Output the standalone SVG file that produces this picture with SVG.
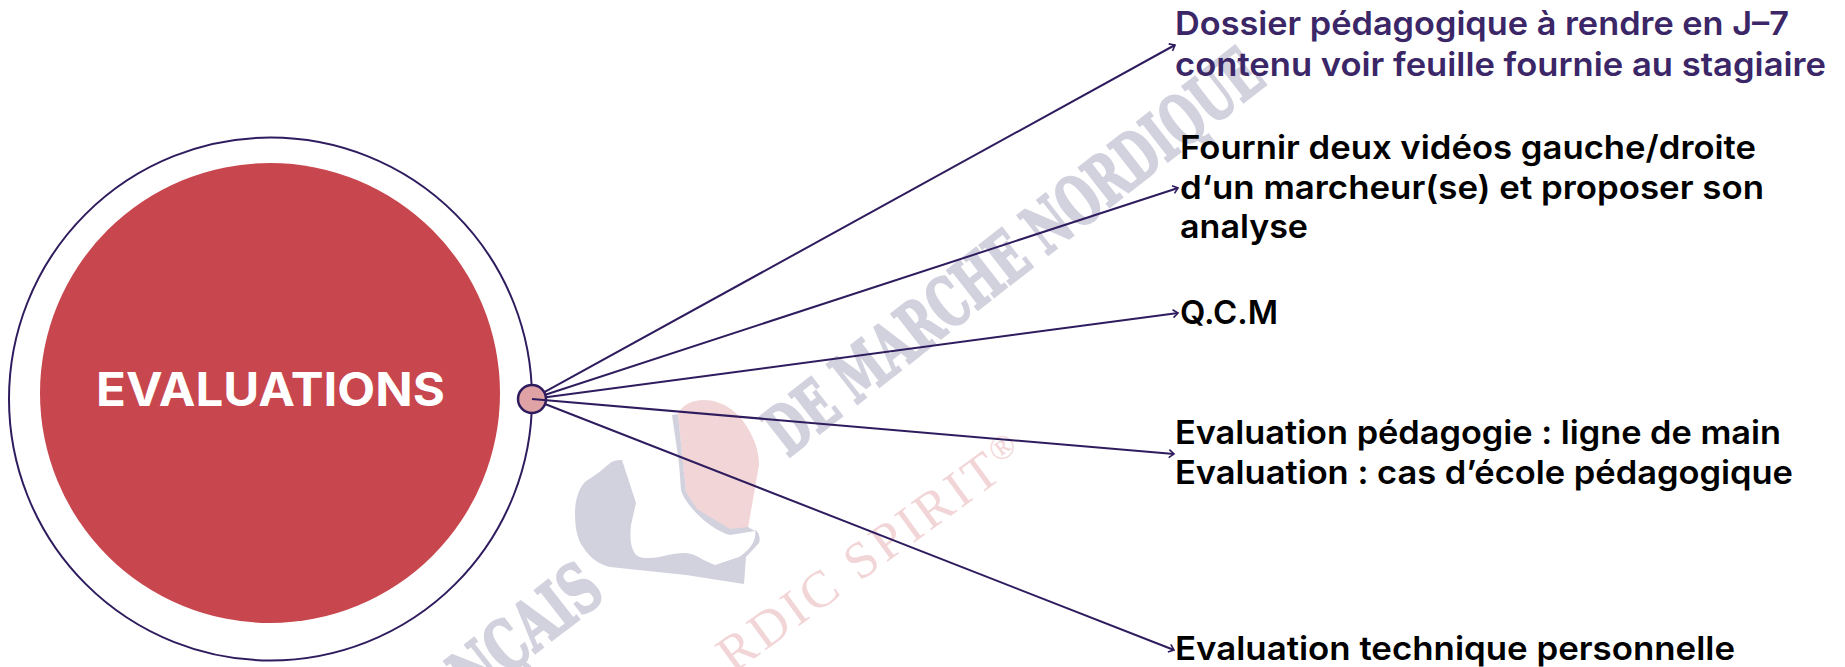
<svg xmlns="http://www.w3.org/2000/svg" width="1845" height="667" viewBox="0 0 1845 667">
<style>
.wm{fill:#d2d1de;stroke:#d2d1de;stroke-width:2.500;font-family:"DejaVu Serif Condensed","DejaVu Serif",serif;font-weight:700;font-size:68px}
.wr{fill:#f2d5d7;font-family:"Liberation Serif",serif;font-size:52px}
.lab{font-family:Inter,"Liberation Sans",sans-serif;font-weight:600;font-size:33px;fill:#000}
.pur{fill:#3b2667}
.cn{fill:none;stroke:#2f1c5e;stroke-width:2;marker-end:url(#ah)}
</style>
<defs>
<marker id="ah" markerUnits="userSpaceOnUse" markerWidth="12" markerHeight="12" refX="9" refY="6" orient="auto">
<path d="M4,2 L9,6 L4,10" fill="none" stroke="#2f1c5e" stroke-width="1.6"/>
</marker>
</defs>
<rect width="1845" height="667" fill="#fff"/>
<g id="watermark">
<text class="wm" transform="translate(788,458) rotate(-38)" textLength="609" lengthAdjust="spacingAndGlyphs">DE MARCHE NORDIQUE</text>
<text class="wm" transform="translate(607,597) rotate(-38)" text-anchor="end" textLength="170" lengthAdjust="spacingAndGlyphs">NÇAIS</text>
<text class="wr" transform="translate(733,674) rotate(-36)" textLength="364" lengthAdjust="spacing">RDIC SPIRIT<tspan font-size="34" dy="-14">®</tspan></text>
<path fill="#d2d1de" d="M622,460 C616,460 612,461 609,464 C600,472 592,477 585,482 C577,490 575,505 575,513 C575,530 578,540 583,547 C590,558 600,565 610,567 L686,575 L744,584 L746,557 L759,543 C761,537 758,531 755,530 C757,540 750,550 739,557 L715,565 C705,562 695,553 686,553 C670,553 660,558 650,558 C643,558 637,558 634,552 C630,545 630,537 631,525 L636,503 Z"/>
<path fill="#f2d5d7" d="M678,414 C682,405 692,400 704,400 C722,400 740,412 750,432 C757,445 759,455 759,465 L748,528 L730,530 L697,510 L686,493 Z"/>
<path fill="#d2d1de" d="M672,415 L679,463 L681,490 C685,505 710,530 730,535 L755,531 L748,527 L730,529 L697,509 L686,492 L678,414 Z"/>
</g>
<g id="node-main">
<circle cx="270.500" cy="399" r="261.500" fill="none" stroke="#2f1c5e" stroke-width="2"/>
<circle cx="270" cy="393" r="230" fill="#c8464d"/>
<text x="96" y="406" font-family="Inter,'Liberation Sans',sans-serif" font-weight="700" font-size="46" fill="#fff" textLength="349" lengthAdjust="spacingAndGlyphs">EVALUATIONS</text>
</g>
<g id="node-hub">
<circle cx="532" cy="399" r="14" fill="#dfa3a6" stroke="#2f1c5e" stroke-width="2.500"/>
</g>
<g id="connectors">
<line class="cn" x1="544.300" y1="392.200" x2="1175" y2="45"/>
<line class="cn" x1="545.300" y1="394.700" x2="1178" y2="188"/>
<line class="cn" x1="545.900" y1="397.200" x2="1178" y2="313"/>
<line class="cn" x1="532" y1="399" x2="1174" y2="454"/>
<line class="cn" x1="545" y1="404" x2="1174" y2="650"/>
</g>
<g id="node-dossier">
<text class="lab pur" x="1175" y="35" textLength="614" lengthAdjust="spacingAndGlyphs">Dossier pédagogique à rendre en J–7</text>
<text class="lab pur" x="1175" y="76" textLength="651" lengthAdjust="spacingAndGlyphs">contenu voir feuille fournie au stagiaire</text>
</g>
<g id="node-videos">
<text class="lab" x="1180" y="159" textLength="576" lengthAdjust="spacingAndGlyphs">Fournir deux vidéos gauche/droite</text>
<text class="lab" x="1180" y="199" textLength="584" lengthAdjust="spacingAndGlyphs">d‘un marcheur(se) et proposer son</text>
<text class="lab" x="1180" y="238" textLength="128" lengthAdjust="spacingAndGlyphs">analyse</text>
</g>
<g id="node-qcm">
<text class="lab" x="1180" y="324" textLength="98" lengthAdjust="spacingAndGlyphs">Q.C.M</text>
</g>
<g id="node-peda">
<text class="lab" x="1175" y="444" textLength="606" lengthAdjust="spacingAndGlyphs">Evaluation pédagogie : ligne de main</text>
<text class="lab" x="1175" y="484" textLength="618" lengthAdjust="spacingAndGlyphs">Evaluation : cas d’école pédagogique</text>
</g>
<g id="node-tech">
<text class="lab" x="1175" y="660" textLength="560" lengthAdjust="spacingAndGlyphs">Evaluation technique personnelle</text>
</g>
</svg>
